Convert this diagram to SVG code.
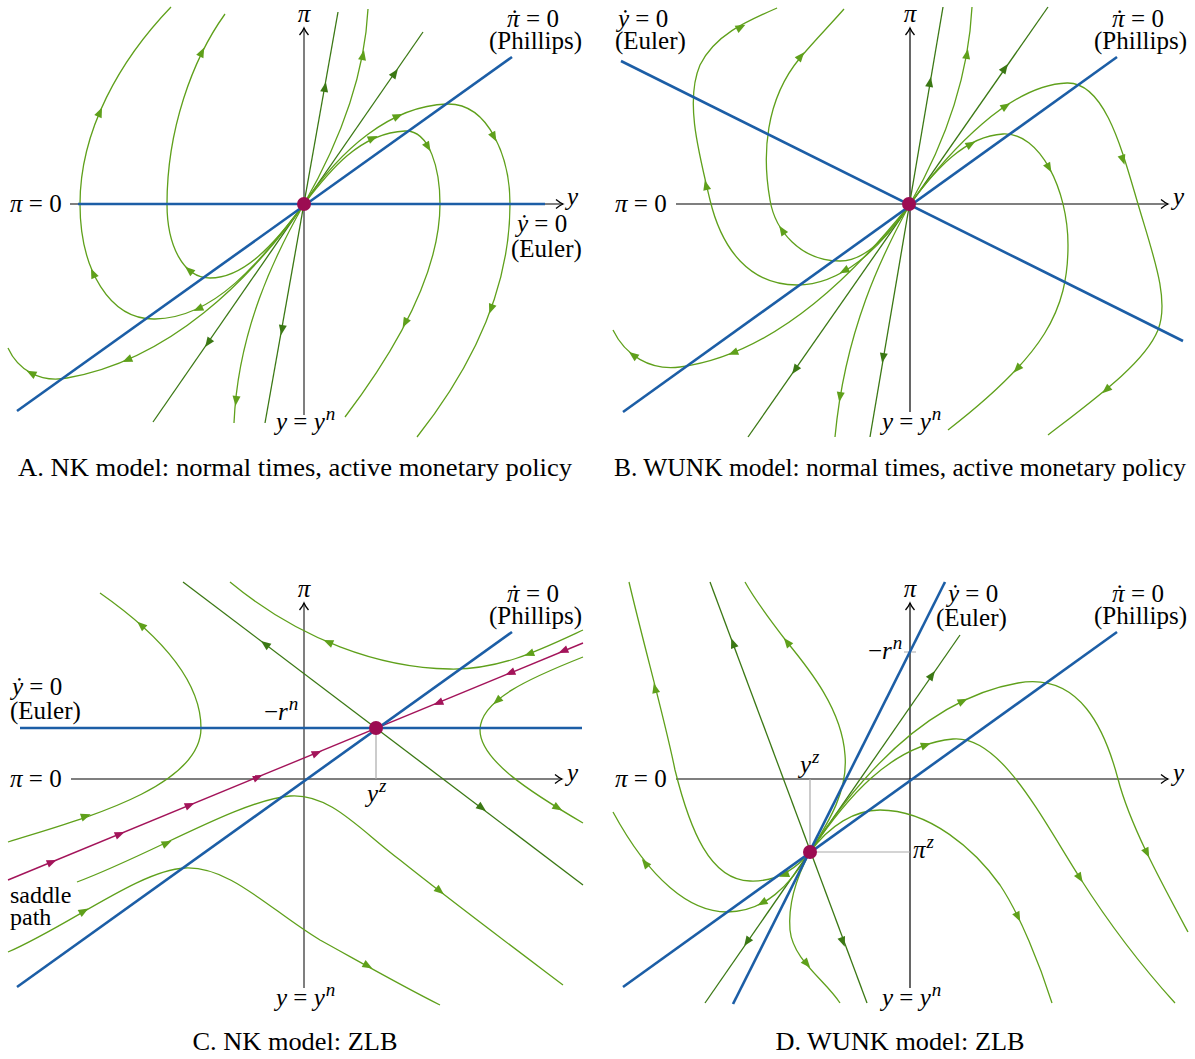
<svg xmlns="http://www.w3.org/2000/svg" xmlns:xlink="http://www.w3.org/1999/xlink" width="1195" height="1059" viewBox="0 0 1195 1059">
<defs>
<style>
text{font-family:"Liberation Serif","Times New Roman",serif;font-size:25px;fill:#000}
.i{font-style:italic}
.t{font-size:26px;text-anchor:middle}
.sup{font-size:19px;font-style:italic}
.sm{font-size:24px}
.ax{stroke:#555;stroke-width:1.5;fill:none}
.axk{stroke:#000;stroke-width:1.2;fill:none}
.bl{stroke:#1c5ea6;stroke-width:2.6;fill:none}
.lg{stroke:#5fa01b;stroke-width:1.3;fill:none}
.dg{stroke:#3b7814;stroke-width:1.3;fill:none}
.sp{stroke:#a3145a;stroke-width:1.4;fill:none}
.gg{stroke:#aaa;stroke-width:1.2;fill:none}
.alg{fill:#5fa01b}
.adg{fill:#3b7814}
.asp{fill:#a3145a}
.eq{fill:#9c0c52}
</style>
<marker id="ax" viewBox="-9 -6 11 12" refX="0" refY="0" markerWidth="11" markerHeight="12" markerUnits="userSpaceOnUse" orient="auto"><path d="M-7,-4.5 C-4,-2 -1.5,-0.6 0,0 C-1.5,0.6 -4,2 -7,4.5" fill="none" stroke="#000" stroke-width="1.3"/></marker>
<path id="ah" d="M5,0 L-5,-4 L-5,4 Z"/>
</defs>
<rect width="1195" height="1059" fill="#fff"/>

<!-- ================= PANEL A ================= -->
<g id="panelA">
<g id="A-axes">
<path class="ax" d="M70,204 H563" marker-end="url(#ax)"/>
<path class="ax" d="M304,415 V28" marker-end="url(#ax)"/>
</g>
<g id="A-connectors">
<path class="dg" d="M265,423 L338,12"/>
<path class="dg" d="M153,422 L423,32"/>
<path class="lg" d="M304,204 C331,157 364,88 368,9"/>
<path class="lg" d="M304,204 C275,255 238,330 234,423"/>
<path class="lg" d="M304,204 C330,170 360,133 405,131 C430,130 440,170 440,204 C440,275 392,355 345,417"/>
<path class="lg" d="M304,204 C340,150 390,106 447,104 C490,103 510,160 510,204 C510,290 470,370 417,437"/>
<path class="lg" d="M304,204 C272,248 242,278 210,278 C183,278 167,245 167,204 C167,130 192,60 225,14"/>
<path class="lg" d="M304,204 C260,262 215,318 155,319 C110,320 80,270 80,204 C80,130 120,60 171,7"/>
<path class="lg" d="M304,204 C250,280 170,360 67,378 C40,383 18,370 8,348"/>
<g class="adg">
<use xlink:href="#ah" transform="translate(325,87) rotate(-80)"/>
<use xlink:href="#ah" transform="translate(282,330) rotate(100)"/>
<use xlink:href="#ah" transform="translate(395,73) rotate(-55)"/>
<use xlink:href="#ah" transform="translate(208,343) rotate(125)"/>
</g>
<g class="alg">
<use xlink:href="#ah" transform="translate(363,55) rotate(-79)"/>
<use xlink:href="#ah" transform="translate(236,401) rotate(96)"/>
<use xlink:href="#ah" transform="translate(373,138) rotate(-24)"/>
<use xlink:href="#ah" transform="translate(428,147) rotate(60)"/>
<use xlink:href="#ah" transform="translate(405,323) rotate(118)"/>
<use xlink:href="#ah" transform="translate(398,116) rotate(-25)"/>
<use xlink:href="#ah" transform="translate(494,137) rotate(62)"/>
<use xlink:href="#ah" transform="translate(491,309) rotate(110)"/>
<use xlink:href="#ah" transform="translate(189,270) rotate(-140)"/>
<use xlink:href="#ah" transform="translate(202,52) rotate(-64)"/>
<use xlink:href="#ah" transform="translate(198,309) rotate(155)"/>
<use xlink:href="#ah" transform="translate(93,273) rotate(-114)"/>
<use xlink:href="#ah" transform="translate(100,112) rotate(-66)"/>
<use xlink:href="#ah" transform="translate(127,360) rotate(157)"/>
<use xlink:href="#ah" transform="translate(31,373) rotate(-152)"/>
</g>
<path class="bl" d="M78,204 H545"/>
<path class="bl" d="M17,411 L512,57"/>
</g>
<circle id="A-eq" class="eq" cx="304" cy="204" r="7"/>
<g id="A-labels">
<text x="304" y="22" class="i" text-anchor="middle">π</text>
<text x="567" y="205" class="i">y</text>
<text x="10" y="212"><tspan class="i">π</tspan> = 0</text>
<text x="507" y="27"><tspan class="i">π</tspan><tspan dx="-9">˙</tspan><tspan dx="1"> = 0</tspan></text>
<text x="489" y="49">(Phillips)</text>
<text x="517" y="232"><tspan class="i">ẏ</tspan> = 0</text>
<text x="511" y="257">(Euler)</text>
<text x="276" y="430"><tspan class="i">y</tspan> = <tspan class="i">y</tspan><tspan class="sup" dx="1" dy="-10">n</tspan></text>
<text class="t" x="295" y="476" textLength="554" lengthAdjust="spacingAndGlyphs">A. NK model: normal times, active monetary policy</text>
</g>
</g>

<!-- ================= PANEL B ================= -->
<g id="panelB">
<g id="B-axes">
<path class="axk" d="M676,204 H1168" marker-end="url(#ax)"/>
<path class="axk" d="M910,412 V28" marker-end="url(#ax)"/>
</g>
<g id="B-connectors">
<path class="dg" d="M870,437 L943,7"/>
<path class="dg" d="M748,437 L1048,7"/>
<path class="lg" d="M910,204 C937,157 968,88 972,7"/>
<path class="lg" d="M910,204 C882,255 845,330 835,437"/>
<path class="lg" d="M910,204 C935,170 965,136 1003,134 C1040,132 1068,190 1068,245 C1068,310 1045,355 948,430"/>
<path class="lg" d="M910,204 C950,150 1010,85 1067,83 C1105,82 1122,150 1138,204 C1153,255 1170,300 1158,330 C1145,362 1100,395 1048,435"/>
<path class="lg" d="M910,204 C880,250 840,285 797,285 C750,285 722,250 710,200 C698,150 685,100 700,65 C715,35 745,22 777,8"/>
<path class="lg" d="M910,204 C890,232 868,261 840,261 C800,261 775,230 770,200 C762,155 765,100 800,58 C815,40 830,25 844,9"/>
<path class="lg" d="M910,204 C850,280 770,355 680,367 C650,371 625,355 613,330"/>
<g class="adg">
<use xlink:href="#ah" transform="translate(930,82) rotate(-80)"/>
<use xlink:href="#ah" transform="translate(883,358) rotate(100)"/>
<use xlink:href="#ah" transform="translate(1005,68) rotate(-55)"/>
<use xlink:href="#ah" transform="translate(795,370) rotate(125)"/>
</g>
<g class="alg">
<use xlink:href="#ah" transform="translate(967,54) rotate(-80)"/>
<use xlink:href="#ah" transform="translate(840,397) rotate(99)"/>
<use xlink:href="#ah" transform="translate(971,144) rotate(-29)"/>
<use xlink:href="#ah" transform="translate(1049,168) rotate(61)"/>
<use xlink:href="#ah" transform="translate(1017,369) rotate(133)"/>
<use xlink:href="#ah" transform="translate(1006,106) rotate(-33)"/>
<use xlink:href="#ah" transform="translate(1123,160) rotate(72)"/>
<use xlink:href="#ah" transform="translate(1106,390) rotate(139)"/>
<use xlink:href="#ah" transform="translate(844,271) rotate(152)"/>
<use xlink:href="#ah" transform="translate(706,185) rotate(-104)"/>
<use xlink:href="#ah" transform="translate(741,27) rotate(-28)"/>
<use xlink:href="#ah" transform="translate(782,230) rotate(-124)"/>
<use xlink:href="#ah" transform="translate(801,56) rotate(-50)"/>
<use xlink:href="#ah" transform="translate(733,353) rotate(158)"/>
<use xlink:href="#ah" transform="translate(633,355) rotate(-143)"/>
</g>
<path class="bl" d="M621,61 L1183,341"/>
<path class="bl" d="M623,412 L1117,57"/>
</g>
<circle id="B-eq" class="eq" cx="909" cy="204" r="7"/>
<g id="B-labels">
<text x="910" y="22" class="i" text-anchor="middle">π</text>
<text x="1173" y="205" class="i">y</text>
<text x="615" y="212"><tspan class="i">π</tspan> = 0</text>
<text x="618" y="27"><tspan class="i">ẏ</tspan> = 0</text>
<text x="615" y="49">(Euler)</text>
<text x="1112" y="27"><tspan class="i">π</tspan><tspan dx="-9">˙</tspan><tspan dx="1"> = 0</tspan></text>
<text x="1094" y="49">(Phillips)</text>
<text x="882" y="430"><tspan class="i">y</tspan> = <tspan class="i">y</tspan><tspan class="sup" dx="1" dy="-10">n</tspan></text>
<text class="t" x="900" y="476" textLength="572" lengthAdjust="spacingAndGlyphs">B. WUNK model: normal times, active monetary policy</text>
</g>
</g>

<!-- ================= PANEL C ================= -->
<g id="panelC">
<g id="C-axes">
<path class="ax" d="M71,779 H562" marker-end="url(#ax)"/>
<path class="ax" d="M304,988 V603" marker-end="url(#ax)"/>
<path class="gg" d="M376,728 V779"/>
</g>
<g id="C-connectors">
<path class="dg" d="M183,582 L583,885"/>
<path class="lg" d="M8,842 C70,822 201,790 201,728 C201,680 160,635 100,593"/>
<path class="lg" d="M583,630 C540,650 500,670 450,669 C380,668 300,640 230,582"/>
<path class="lg" d="M583,657 C530,678 480,700 480,730 C480,760 530,792 583,823"/>
<path class="lg" d="M77,882 C150,855 240,800 290,796 C330,793 360,830 400,860 C450,900 510,945 563,985"/>
<path class="lg" d="M8,952 C70,925 140,870 185,868 C230,866 270,910 320,940 C360,962 400,985 440,1005"/>
<path class="sp" d="M8,880 L583,643"/>
<g class="adg">
<use xlink:href="#ah" transform="translate(265,644) rotate(-143)"/>
<use xlink:href="#ah" transform="translate(482,808) rotate(37)"/>
</g>
<g class="alg">
<use xlink:href="#ah" transform="translate(86,816) rotate(-19)"/>
<use xlink:href="#ah" transform="translate(141,625) rotate(-138)"/>
<use xlink:href="#ah" transform="translate(529,654) rotate(159)"/>
<use xlink:href="#ah" transform="translate(328,642) rotate(-157)"/>
<use xlink:href="#ah" transform="translate(497,701) rotate(139)"/>
<use xlink:href="#ah" transform="translate(558,808) rotate(31)"/>
<use xlink:href="#ah" transform="translate(167,843) rotate(-25)"/>
<use xlink:href="#ah" transform="translate(440,891) rotate(39)"/>
<use xlink:href="#ah" transform="translate(84,911) rotate(-30)"/>
<use xlink:href="#ah" transform="translate(368,966) rotate(29)"/>
</g>
<g class="asp">
<use xlink:href="#ah" transform="translate(52,862) rotate(-22.4)"/>
<use xlink:href="#ah" transform="translate(120,834) rotate(-22.4)"/>
<use xlink:href="#ah" transform="translate(190,805) rotate(-22.4)"/>
<use xlink:href="#ah" transform="translate(258,777) rotate(-22.4)"/>
<use xlink:href="#ah" transform="translate(317,753) rotate(-22.4)"/>
<use xlink:href="#ah" transform="translate(438,703) rotate(157.6)"/>
<use xlink:href="#ah" transform="translate(510,673) rotate(157.6)"/>
<use xlink:href="#ah" transform="translate(563,651) rotate(157.6)"/>
</g>
<path class="bl" d="M20,728 H582"/>
<path class="bl" d="M17,987 L512,632"/>
</g>
<circle id="C-eq" class="eq" cx="376" cy="728" r="7"/>
<g id="C-labels">
<text x="304" y="597" class="i" text-anchor="middle">π</text>
<text x="567" y="781" class="i">y</text>
<text x="10" y="787"><tspan class="i">π</tspan> = 0</text>
<text x="507" y="602"><tspan class="i">π</tspan><tspan dx="-9">˙</tspan><tspan dx="1"> = 0</tspan></text>
<text x="489" y="624">(Phillips)</text>
<text x="12" y="695"><tspan class="i">ẏ</tspan> = 0</text>
<text x="10" y="719">(Euler)</text>
<text x="264" y="720">−<tspan class="i">r</tspan><tspan class="sup" dx="1" dy="-10">n</tspan></text>
<text x="367" y="802"><tspan class="i">y</tspan><tspan class="sup" dx="1" dy="-10">z</tspan></text>
<text x="10" y="903" class="sm">saddle</text>
<text x="10" y="925" class="sm">path</text>
<text x="276" y="1006"><tspan class="i">y</tspan> = <tspan class="i">y</tspan><tspan class="sup" dx="1" dy="-10">n</tspan></text>
<text class="t" x="295" y="1050" textLength="205" lengthAdjust="spacingAndGlyphs">C. NK model: ZLB</text>
</g>
</g>

<!-- ================= PANEL D ================= -->
<g id="panelD">
<g id="D-axes">
<path class="ax" d="M676,779 H1168" marker-end="url(#ax)"/>
<path class="axk" d="M910,988 V603" marker-end="url(#ax)"/>
<path class="gg" d="M810,852 V779 M810,852 H910 M904,652 H916"/>
</g>
<g id="D-connectors">
<path class="dg" d="M710,582 L867,1003"/>
<path class="dg" d="M705,1003 L960,635"/>
<path class="lg" d="M810,852 C795,870 775,882 750,881 C710,880 690,830 675,770 C665,720 645,650 629,582"/>
<path class="lg" d="M810,852 C790,885 765,912 727,912 C690,912 650,880 613,812"/>
<path class="lg" d="M810,852 C830,820 848,790 845,755 C842,710 810,670 787,642 C770,620 755,600 745,582"/>
<path class="lg" d="M810,852 C795,880 788,905 790,930 C793,960 825,980 840,1003"/>
<path class="lg" d="M810,852 C850,790 920,700 1018,683 C1080,672 1105,730 1118,779 C1130,825 1160,880 1188,932"/>
<path class="lg" d="M810,852 C845,800 890,745 953,739 C1000,735 1040,815 1080,878 C1110,925 1145,970 1175,1003"/>
<path class="lg" d="M810,852 C830,825 855,810 880,810 C930,810 975,850 1000,885 C1020,915 1040,965 1052,1003"/>
<g class="adg">
<use xlink:href="#ah" transform="translate(733,643) rotate(-110.5)"/>
<use xlink:href="#ah" transform="translate(843,942) rotate(69.5)"/>
<use xlink:href="#ah" transform="translate(932,675) rotate(-55.3)"/>
<use xlink:href="#ah" transform="translate(747,942) rotate(124.7)"/>
</g>
<g class="alg">
<use xlink:href="#ah" transform="translate(784,875) rotate(160)"/>
<use xlink:href="#ah" transform="translate(655,688) rotate(-104)"/>
<use xlink:href="#ah" transform="translate(762,903) rotate(151)"/>
<use xlink:href="#ah" transform="translate(645,863) rotate(-129)"/>
<use xlink:href="#ah" transform="translate(787,642) rotate(-129)"/>
<use xlink:href="#ah" transform="translate(807,964) rotate(50)"/>
<use xlink:href="#ah" transform="translate(963,701) rotate(-26)"/>
<use xlink:href="#ah" transform="translate(1147,853) rotate(64)"/>
<use xlink:href="#ah" transform="translate(926,745) rotate(-19)"/>
<use xlink:href="#ah" transform="translate(1080,878) rotate(58)"/>
<use xlink:href="#ah" transform="translate(1018,917) rotate(64)"/>
</g>
<path class="bl" d="M733,1004 L945,582"/>
<path class="bl" d="M623,987 L1117,632"/>
</g>
<circle id="D-eq" class="eq" cx="810" cy="852" r="7"/>
<g id="D-labels">
<text x="910" y="597" class="i" text-anchor="middle">π</text>
<text x="1173" y="781" class="i">y</text>
<text x="615" y="787"><tspan class="i">π</tspan> = 0</text>
<text x="948" y="602"><tspan class="i">ẏ</tspan> = 0</text>
<text x="936" y="626">(Euler)</text>
<text x="1112" y="602"><tspan class="i">π</tspan><tspan dx="-9">˙</tspan><tspan dx="1"> = 0</tspan></text>
<text x="1094" y="624">(Phillips)</text>
<text x="868" y="659">−<tspan class="i">r</tspan><tspan class="sup" dx="1" dy="-10">n</tspan></text>
<text x="800" y="773"><tspan class="i">y</tspan><tspan class="sup" dx="1" dy="-10">z</tspan></text>
<text x="913" y="858"><tspan class="i">π</tspan><tspan class="sup" dx="1" dy="-10">z</tspan></text>
<text x="882" y="1006"><tspan class="i">y</tspan> = <tspan class="i">y</tspan><tspan class="sup" dx="1" dy="-10">n</tspan></text>
<text class="t" x="900" y="1050" textLength="249" lengthAdjust="spacingAndGlyphs">D. WUNK model: ZLB</text>
</g>
</g>
</svg>
